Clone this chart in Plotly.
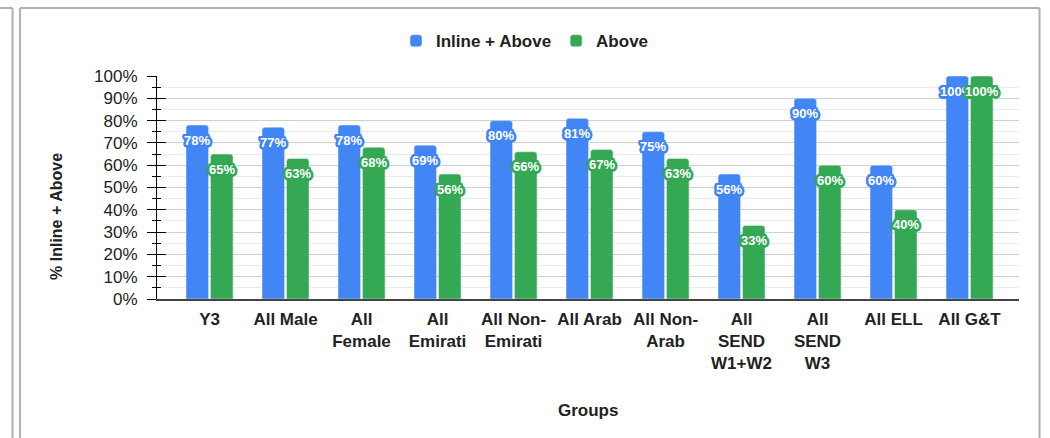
import plotly.graph_objects as go

# Groups and their attainment percentages
groups = ["Y3", "All Male", "All<br>Female", "All<br>Emirati", "All Non-<br>Emirati",
          "All Arab", "All Non-<br>Arab", "All<br>SEND<br>W1+W2", "All<br>SEND<br>W3",
          "All ELL", "All G&T"]
inline_above = [78, 77, 78, 69, 80, 81, 75, 56, 90, 60, 100]
above = [65, 63, 68, 56, 66, 67, 63, 33, 60, 40, 100]

BLUE = "#4285F4"
GREEN = "#34A853"
TEXT = "#222222"
FONT = "Liberation Sans, Arial, sans-serif"

idx = list(range(len(groups)))
BAR_W = 0.296
GAP = 0.026
off_blue = -(BAR_W + GAP / 2)
off_green = GAP / 2

fig = go.Figure()
fig.add_trace(go.Bar(x=idx, y=inline_above, name="Inline + Above", marker_color=BLUE,
                     width=BAR_W, offset=off_blue, hoverinfo="skip"))
fig.add_trace(go.Bar(x=idx, y=above, name="Above", marker_color=GREEN,
                     width=BAR_W, offset=off_green, hoverinfo="skip"))
# invisible helper trace so the overlaid axis (inner half of the ticks) is drawn
fig.add_trace(go.Scatter(x=[0], y=[0], yaxis="y2", mode="markers",
                         marker=dict(opacity=0), showlegend=False, hoverinfo="skip"))


def halo(c):
    pts = ["2.5px 0 0", "-2.5px 0 0", "0 2.5px 0", "0 -2.5px 0",
           "1.8px 1.8px 0", "-1.8px 1.8px 0", "1.8px -1.8px 0", "-1.8px -1.8px 0",
           "1px 2.2px 0", "-1px 2.2px 0", "1px -2.2px 0", "-1px -2.2px 0",
           "2.2px 1px 0", "-2.2px 1px 0", "2.2px -1px 0", "-2.2px -1px 0"]
    return ", ".join(f"{p} {c}" for p in pts)


annotations = []
for vals, off, col in ((inline_above, off_blue, BLUE), (above, off_green, GREEN)):
    for i, v in zip(idx, vals):
        annotations.append(dict(
            x=i + off + BAR_W / 2, y=v, xref="x", yref="y", text=f"{v}%",
            showarrow=False, yshift=-15, yanchor="middle",
            font=dict(family=FONT, size=13, color="white", weight="bold", shadow=halo(col))))

# axis titles
annotations.append(dict(x=0.5, y=-0.498, xref="paper", yref="paper", text="<b>Groups</b>",
                        showarrow=False, yanchor="middle",
                        font=dict(family=FONT, size=17, color=TEXT)))
annotations.append(dict(x=-0.116, y=0.368, xref="paper", yref="paper",
                        text="<b>% Inline + Above</b>", textangle=-90, showarrow=False,
                        xanchor="center", yanchor="middle",
                        font=dict(family=FONT, size=16, color=TEXT)))

frame = dict(color="#b0b0b0", width=2)
shapes = [
    dict(type="line", xref="paper", yref="paper", x0=-0.1676, x1=-0.1676, y0=1.305, y1=-0.65, line=frame),
    dict(type="line", xref="paper", yref="paper", x0=-0.19, x1=-0.1676, y0=1.305, y1=1.305, line=frame),
    dict(type="line", xref="paper", yref="paper", x0=-0.1589, x1=-0.1589, y0=1.305, y1=-0.65, line=frame),
    dict(type="line", xref="paper", yref="paper", x0=-0.1589, x1=1.0238, y0=1.305, y1=1.305, line=frame),
    dict(type="line", xref="paper", yref="paper", x0=1.0238, x1=1.0238, y0=1.305, y1=-0.65, line=frame),
]

fig.update_layout(
    width=1050, height=438,
    margin=dict(l=157, r=31, t=76, b=139, autoexpand=False),
    paper_bgcolor="white", plot_bgcolor="white",
    barcornerradius=3,
    font=dict(family=FONT, color=TEXT),
    legend=dict(orientation="h", xref="container", yref="container",
                x=0.5, xanchor="center", y=0.906, yanchor="middle",
                font=dict(family=FONT, size=17, color=TEXT, weight="bold")),
    xaxis=dict(range=[-0.691, 10.651], tickvals=idx, ticktext=groups,
               showgrid=False, zeroline=False, showline=True, linecolor="#444444", linewidth=1.5,
               ticks="", ticklabelstandoff=4,
               tickfont=dict(family=FONT, size=17, color=TEXT, weight="bold")),
    yaxis=dict(range=[0, 100], dtick=10, ticksuffix="%", showline=True, linecolor="black",
               linewidth=1, ticks="outside", ticklen=9, tickcolor="black",
               gridcolor="#cfcfcf", gridwidth=1, zeroline=False,
               ticklabelstandoff=6,
               tickfont=dict(family=FONT, size=17, color=TEXT),
               minor=dict(dtick=5, ticks="outside", ticklen=4, tickcolor="black",
                          showgrid=True, gridcolor="#ebebeb")),
    yaxis2=dict(range=[0, 100], overlaying="y", side="left", dtick=10,
                showticklabels=False, showgrid=False, zeroline=False, showline=False,
                ticks="inside", ticklen=9, tickcolor="black",
                minor=dict(dtick=5, ticks="inside", ticklen=4, tickcolor="black", showgrid=False)),
    annotations=annotations,
    shapes=shapes,
    hovermode=False,
)

fig.write_html("out.html")
